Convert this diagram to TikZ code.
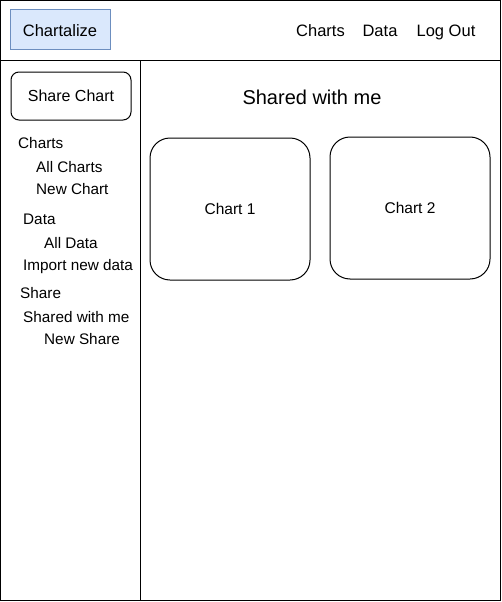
\documentclass[tikz,border=0pt]{standalone}
\usepackage{fontspec}
\setmainfont{Liberation Sans}
\definecolor{logofill}{HTML}{DAE8FC}
\definecolor{logoline}{HTML}{6C8EBF}
\begin{document}
\begin{tikzpicture}[
    x=1pt, y=-1pt,
    frame/.style={draw, line width=1pt},
    logo/.style={draw=logoline, fill=logofill, line width=1pt, minimum width=100pt, minimum height=40pt,
        text height=14pt, text depth=0pt, font=\fontsize{16.5}{19}\selectfont},
    navlink/.style={anchor=base, inner sep=0pt, font=\fontsize{16.5}{19}\selectfont},
    button/.style={draw, line width=1pt, rounded corners=8pt, minimum width=120pt, minimum height=48pt, font=\fontsize{16}{19}\selectfont},
    card/.style={draw, line width=1pt, rounded corners=20pt, minimum width=160pt, minimum height=142pt, font=\fontsize{15.5}{18}\selectfont},
    menuitem/.style={anchor=base west, inner sep=0pt, font=\fontsize{15.3}{18}\selectfont},
    heading/.style={inner sep=0pt, font=\fontsize{20}{24}\selectfont}
]
    \useasboundingbox (0,0) rectangle (502,602);
    % Frame
    \draw[frame] (0.5,0.5) rectangle (500.5,600.5);
    \draw[frame] (0.5,60.5) -- (500.5,60.5);
    \draw[frame] (140.5,60.5) -- (140.5,600.5);
    % Header
    \node[logo] (logo) at (60,30) {Chartalize};
    \node[navlink] (navcharts) at (320.5,37) {Charts};
    \node[navlink] (navdata) at (380,37) {Data};
    \node[navlink] (navlogout) at (446,37) {Log Out};
    % Sidebar
    \node[button] (sharechart) at (71,96) {Share Chart};
    \node[menuitem] (charts) at (18,148.5) {Charts};
    \node[menuitem] (allcharts) at (36,172.5) {All Charts};
    \node[menuitem] (newchart) at (36,194.5) {New Chart};
    \node[menuitem] (data) at (23,224) {Data};
    \node[menuitem] (alldata) at (44,248.5) {All Data};
    \node[menuitem] (importdata) at (23,270.5) {Import new data};
    \node[menuitem] (share) at (20,298.5) {Share};
    \node[menuitem] (sharedwithme) at (23,322.5) {Shared with me};
    \node[menuitem] (newshare) at (44,344.5) {New Share};
    % Content
    \node[heading] (title) at (312,97) {Shared with me};
    \node[card] (chartone) at (230,209) {Chart 1};
    \node[card] (charttwo) at (410,208) {Chart 2};
\end{tikzpicture}
\end{document}
